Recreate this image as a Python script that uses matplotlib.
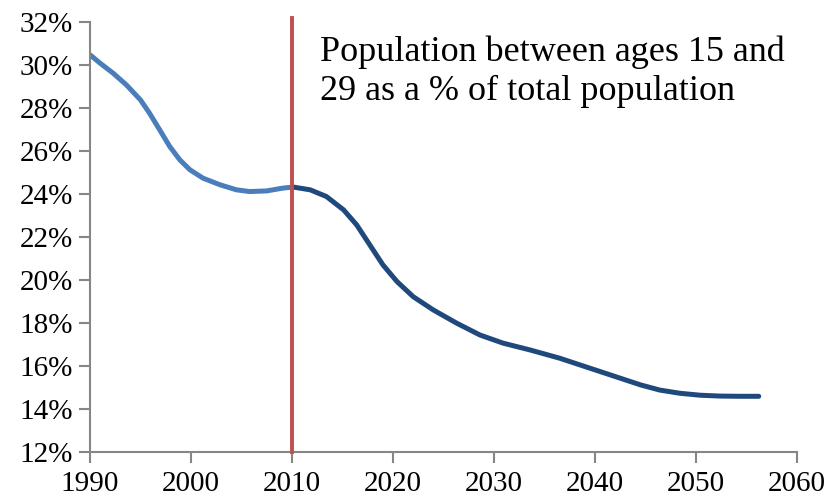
import matplotlib
matplotlib.use("Agg")
import matplotlib.pyplot as plt
from matplotlib.ticker import FuncFormatter

# share of population aged 15-29 (%), historical part up to 2010
hist_years = [1990, 1991.0, 1992.3, 1993.6, 1995.0, 1995.9, 1996.9, 1997.9, 1998.9, 1999.9,
              2001.2, 2002.9, 2004.5, 2005.8, 2007.5, 2009.1, 2010.1]
hist_share = [30.47, 30.08, 29.61, 29.07, 28.37, 27.75, 26.98, 26.20, 25.58, 25.12,
              24.73, 24.42, 24.19, 24.11, 24.14, 24.27, 24.32]

# projection from 2010 onwards
proj_years = [2010.1, 2011.8, 2013.4, 2015.1, 2016.4, 2017.7, 2019.0, 2020.4, 2022.0, 2024.0,
              2026.3, 2028.6, 2030.9, 2033.6, 2036.5, 2038.5, 2040.5, 2042.5, 2044.5,
              2046.4, 2048.4, 2050.4, 2052.4, 2054.4, 2056.2]
proj_share = [24.32, 24.19, 23.88, 23.26, 22.56, 21.63, 20.70, 19.92, 19.22, 18.60,
              17.99, 17.44, 17.06, 16.74, 16.36, 16.05, 15.74, 15.43, 15.12,
              14.88, 14.73, 14.64, 14.60, 14.59, 14.59]

split_year = 2010
x_ticks = list(range(1990, 2061, 10))
y_ticks = list(range(12, 33, 2))

plt.rcParams["font.family"] = ["Liberation Serif", "DejaVu Serif"]

fig = plt.figure(figsize=(8.30, 4.99), dpi=100)
ax = fig.add_axes([0.1084, 0.0942, 0.852, 0.862])

ax.plot(hist_years, hist_share, color="#4a7ebb", lw=3.6, solid_capstyle="round",
        solid_joinstyle="round")
ax.plot(proj_years, proj_share, color="#1f497d", lw=3.6, solid_capstyle="round",
        solid_joinstyle="round")
ax.axvline(split_year, ymin=0, ymax=1.01, color="#c0504d", lw=2.8, clip_on=False, zorder=3)

ax.set_xlim(1990, 2060)
ax.set_ylim(12, 32)
ax.set_xticks(x_ticks)
ax.set_yticks(y_ticks)
ax.yaxis.set_major_formatter(FuncFormatter(lambda v, _: f"{v:.0f}%"))

for s in ("top", "right"):
    ax.spines[s].set_visible(False)
for s in ("left", "bottom"):
    ax.spines[s].set_color("#868686")
    ax.spines[s].set_linewidth(1.5)
ax.tick_params(axis="both", colors="#868686", length=8, width=1.5, labelcolor="black",
               labelsize=21)
ax.tick_params(axis="x", pad=6)
ax.tick_params(axis="y", pad=4)

ax.text(2012.8, 31.35, "Population between ages 15 and\n29 as a % of total population",
        fontsize=26, va="top", ha="left", linespacing=1.22)

fig.savefig("out.png", dpi=100)
